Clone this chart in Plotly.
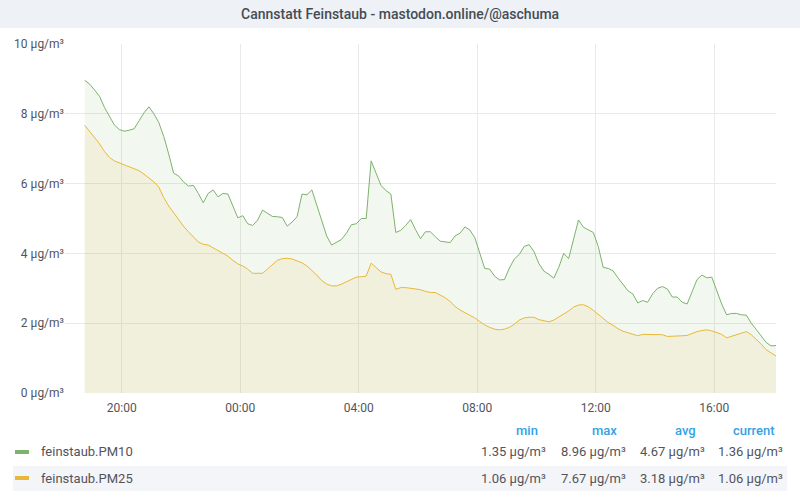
import pandas as pd
import plotly.graph_objects as go

title = "Cannstatt Feinstaub - mastodon.online/@aschuma"
series_names = ["feinstaub.PM10", "feinstaub.PM25"]
unit = "µg/m³"

# 10 minute samples, first one at 18:45
start = "2021-03-14 18:45"
range_start = "2021-03-14 18:05"
range_end = "2021-03-15 18:05"

pm10 = [
    8.96, 8.85, 8.68, 8.50, 8.18, 7.93, 7.68, 7.55, 7.50, 7.53,
    7.57, 7.80, 8.03, 8.20, 8.00, 7.75, 7.35, 6.85, 6.30, 6.22,
    6.05, 5.93, 5.95, 5.72, 5.45, 5.72, 5.82, 5.62, 5.72, 5.70,
    5.35, 5.02, 5.08, 4.85, 4.80, 4.95, 5.24, 5.14, 5.06, 5.05,
    5.03, 4.78, 4.90, 5.05, 5.70, 5.68, 5.82, 5.38, 4.96, 4.50,
    4.24, 4.33, 4.40, 4.58, 4.82, 4.85, 5.00, 5.00, 6.65, 6.30,
    5.95, 5.80, 5.70, 4.60, 4.66, 4.80, 4.97, 4.68, 4.42, 4.62,
    4.62, 4.48, 4.35, 4.33, 4.31, 4.50, 4.58, 4.76, 4.67, 4.45,
    4.00, 3.57, 3.55, 3.35, 3.24, 3.25, 3.58, 3.84, 3.97, 4.20,
    4.25, 4.05, 3.70, 3.49, 3.40, 3.29, 3.60, 4.00, 3.85, 4.45,
    4.96, 4.75, 4.67, 4.60, 4.20, 3.60, 3.57, 3.50, 3.30, 3.12,
    2.93, 2.84, 2.58, 2.65, 2.60, 2.84, 3.00, 3.05, 2.98, 2.75,
    2.75, 2.60, 2.55, 2.90, 3.25, 3.38, 3.30, 3.32, 2.93, 2.55,
    2.24, 2.28, 2.28, 2.24, 2.23, 2.00, 1.82, 1.63, 1.45, 1.35,
    1.36,
]

pm25 = [
    7.67, 7.50, 7.30, 7.14, 6.92, 6.75, 6.65, 6.59, 6.55, 6.48,
    6.42, 6.37, 6.27, 6.15, 6.05, 5.90, 5.60, 5.36, 5.16, 4.96,
    4.78, 4.62, 4.48, 4.33, 4.26, 4.24, 4.16, 4.08, 4.00, 3.92,
    3.80, 3.70, 3.64, 3.55, 3.43, 3.42, 3.43, 3.55, 3.68, 3.80,
    3.85, 3.86, 3.84, 3.79, 3.73, 3.64, 3.52, 3.38, 3.22, 3.12,
    3.07, 3.07, 3.12, 3.18, 3.24, 3.32, 3.33, 3.35, 3.72, 3.60,
    3.47, 3.42, 3.40, 2.97, 3.02, 3.02, 3.00, 2.96, 2.96, 2.91,
    2.88, 2.88, 2.81, 2.73, 2.62, 2.48, 2.38, 2.30, 2.24, 2.15,
    2.05, 1.95, 1.88, 1.83, 1.81, 1.83, 1.88, 1.97, 2.09, 2.15,
    2.17, 2.17, 2.10, 2.06, 2.04, 2.09, 2.17, 2.27, 2.35, 2.46,
    2.52, 2.53, 2.47, 2.37, 2.25, 2.13, 2.02, 1.94, 1.84, 1.77,
    1.72, 1.67, 1.64, 1.68, 1.68, 1.68, 1.67, 1.67, 1.62, 1.62,
    1.63, 1.64, 1.65, 1.71, 1.76, 1.79, 1.81, 1.78, 1.74, 1.68,
    1.58, 1.62, 1.67, 1.72, 1.76, 1.67, 1.54, 1.40, 1.24, 1.14,
    1.06,
]

stat_headers = ["min", "max", "avg", "current"]
pm10_stats = ["1.35", "8.96", "4.67", "1.36"]
pm25_stats = ["1.06", "7.67", "3.18", "1.06"]

colors = ["#7eb26d", "#eab839"]
fills = ["rgba(126,178,109,0.1)", "rgba(234,184,57,0.1)"]
text_col = "#52545c"

times = pd.date_range(start, periods=len(pm10), freq="10min")

W, H = 800, 500
ML, MR, MT, MB = 65, 24, 44, 107
plot_w = W - ML - MR
plot_h = H - MT - MB


def fx(x):
    return (x - ML) / plot_w


def fy(y):
    return (H - MB - y) / plot_h


fig = go.Figure()
for name, vals, c, f in zip(series_names, [pm10, pm25], colors, fills):
    fig.add_trace(go.Scatter(
        x=times, y=vals, name=name, mode="lines",
        line=dict(color=c, width=1), fill="tozeroy", fillcolor=f,
        hoverinfo="skip",
    ))

shapes = [
    # title bar
    dict(type="rect", xref="paper", yref="paper", x0=fx(0), x1=fx(W),
         y0=fy(28), y1=fy(0), fillcolor="#eef1f6", line_width=0, layer="below"),
    # striped legend row
    dict(type="rect", xref="paper", yref="paper", x0=fx(13), x1=fx(787),
         y0=fy(491), y1=fy(466), fillcolor="#f4f5f8", line_width=0, layer="below"),
]
annotations = [
    dict(text=title, x=fx(W / 2), y=fy(14), xref="paper", yref="paper",
         showarrow=False, xanchor="center", yanchor="middle",
         font=dict(family="Roboto", size=14, color="#464c54", weight=500)),
]

header_right = [540, 619, 698, 777]
value_right = [548, 628, 707, 785]
for h, xr in zip(stat_headers, header_right):
    annotations.append(dict(
        text=h, x=fx(xr), y=fy(430), xref="paper", yref="paper", showarrow=False,
        xanchor="right", yanchor="middle",
        font=dict(family="Roboto", size=13, color="#33a2e5", weight=500)))

rows_y = [452, 478]
for name, stats, c, ry in zip(series_names, [pm10_stats, pm25_stats], colors, rows_y):
    shapes.append(dict(type="line", xref="paper", yref="paper", x0=fx(15), x1=fx(29),
                       y0=fy(ry), y1=fy(ry), line=dict(color=c, width=4)))
    annotations.append(dict(
        text=name, x=fx(39), y=fy(ry), xref="paper", yref="paper", showarrow=False,
        xanchor="left", yanchor="middle",
        font=dict(family="Roboto", size=13, color=text_col)))
    for s, xr in zip(stats, value_right):
        annotations.append(dict(
            text=f"{s} {unit}", x=fx(xr), y=fy(ry), xref="paper", yref="paper",
            showarrow=False, xanchor="right", yanchor="middle",
            font=dict(family="Roboto", size=13, color=text_col)))

fig.update_layout(
    width=W, height=H,
    margin=dict(l=ML, r=MR, t=MT, b=MB),
    paper_bgcolor="white", plot_bgcolor="white",
    showlegend=False,
    font=dict(family="Roboto", size=12, color=text_col),
    shapes=shapes, annotations=annotations,
)
fig.update_xaxes(
    type="date", range=[range_start, range_end],
    tick0="2021-03-14 00:00", dtick=4 * 3600 * 1000, tickformat="%H:%M",
    showgrid=True, gridcolor="#e9e9e9", gridwidth=1,
    showline=False, zeroline=False, ticks="", ticklabelstandoff=6,
)
fig.update_yaxes(
    range=[0, 10], tick0=0, dtick=2, ticksuffix=" " + unit,
    showgrid=True, gridcolor="#e9e9e9", gridwidth=1,
    showline=False, zeroline=False, ticks="",
)

# page has a default body margin, drop it so the figure sits at 0,0
fig.write_html("out.html", config={"displayModeBar": False},
               post_script="document.body.style.margin='0';")
